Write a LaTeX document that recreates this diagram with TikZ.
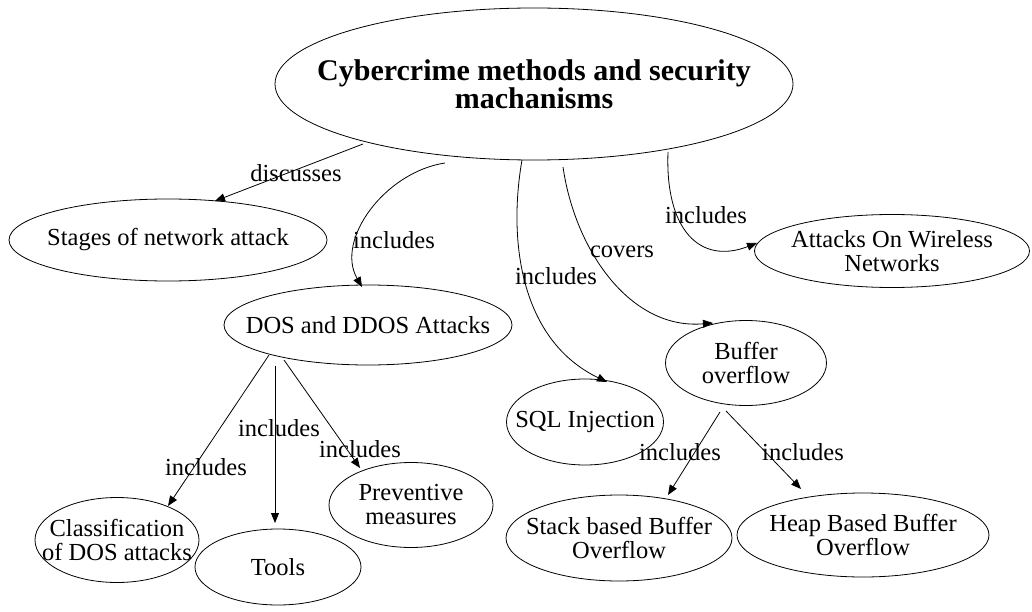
\documentclass[tikz,border=0pt]{standalone}
\usepackage{fontspec}
\setmainfont{Liberation Serif}
\usetikzlibrary{shapes.geometric,arrows.meta,calc}
\begin{document}
\begin{tikzpicture}[x=1pt,y=-1pt,
  ell/.style={draw, ellipse, line width=0.8pt, inner sep=0pt, outer sep=0pt},
  txt/.style={align=center, font=\fontsize{24.5}{24}\selectfont, inner sep=0pt},
  maintxt/.style={align=center, font=\bfseries\fontsize{30}{28}\selectfont, inner sep=0pt},
  lbl/.style={font=\fontsize{24.5}{24}\selectfont, inner sep=0pt},
  arr/.style={line width=0.8pt, -{Triangle[length=10pt,width=8pt]}}]
\useasboundingbox (0,0) rectangle (1032,612);

% nodes
\node[ell, minimum width=518pt, minimum height=152pt,
  label={[maintxt]center:{Cybercrime methods and security\\machanisms}}] (main) at (534,84) {};
\node[ell, minimum width=318pt, minimum height=82pt,
  label={[txt]center:{Stages of network attack}}] (stages) at (168,240) {};
\node[ell, minimum width=288pt, minimum height=80pt,
  label={[txt]center:{DOS and DDOS Attacks}}] (dos) at (368,325) {};
\node[ell, minimum width=164pt, minimum height=85pt,
  label={[txt]center:{Classification\\of DOS attacks}}] (classif) at (117,540) {};
\node[ell, minimum width=166pt, minimum height=76pt,
  label={[txt]center:{Tools}}] (tools) at (278,567) {};
\node[ell, minimum width=164pt, minimum height=85pt,
  label={[txt]center:{Preventive\\measures}}] (prev) at (411,505) {};
\node[ell, minimum width=157pt, minimum height=86pt,
  label={[txt]center:{SQL Injection}}] (sql) at (585,422) {};
\node[ell, minimum width=161pt, minimum height=85pt,
  label={[txt]center:{Buffer\\overflow}}] (buffer) at (746,363) {};
\node[ell, minimum width=275pt, minimum height=73pt,
  label={[txt]center:{Attacks On Wireless\\Networks}}] (wireless) at (892,251) {};
\node[ell, minimum width=226pt, minimum height=86pt,
  label={[txt]center:{Stack based Buffer\\Overflow}}] (stack) at (619,538) {};
\node[ell, minimum width=252pt, minimum height=84pt,
  label={[txt]center:{Heap Based Buffer\\Overflow}}] (heap) at (863,535) {};

% connectors
\draw[arr] ($(main)+(-171,60)$) -- ($(stages)+(47,-39)$);
\draw[arr] ($(main)+(-89,79)$) .. controls +(-60,9) and +(-27,-47) .. ($(dos)+(-6,-38)$);
\draw[arr] ($(main)+(-12,76)$) .. controls +(-14,80) and +(-87,-42) .. ($(sql)+(22,-40)$);
\draw[arr] ($(main)+(29,83)$) .. controls +(12,83) and +(-83,7) .. ($(buffer)+(-33,-40)$);
\draw[arr] ($(main)+(134,68)$) .. controls +(-3,78) and +(-57,22) .. ($(wireless)+(-135,-8)$);
\draw[arr] ($(dos)+(-99,30)$) -- ($(classif)+(51,-34)$);
\draw[arr] ($(dos)+(-93,41)$) -- ($(tools)+(-3,-44)$);
\draw[arr] ($(dos)+(-84,35)$) -- ($(prev)+(-51,-37)$);
\draw[arr] ($(buffer)+(-26,49)$) -- ($(stack)+(49,-43)$);
\draw[arr] ($(buffer)+(-20,48)$) -- ($(heap)+(-62,-46)$);

% connector labels
\node[lbl] (l1) at (296,173) {discusses};
\node[lbl] (l2) at (394,240) {includes};
\node[lbl] (l3) at (556,276) {includes};
\node[lbl] (l4) at (622,252) {covers};
\node[lbl] (l5) at (706,215) {includes};
\node[lbl] (l6) at (206,467) {includes};
\node[lbl] (l7) at (279,428) {includes};
\node[lbl] (l8) at (360,449) {includes};
\node[lbl] (l9) at (680,452) {includes};
\node[lbl] (l10) at (803,452) {includes};
\end{tikzpicture}
\end{document}
